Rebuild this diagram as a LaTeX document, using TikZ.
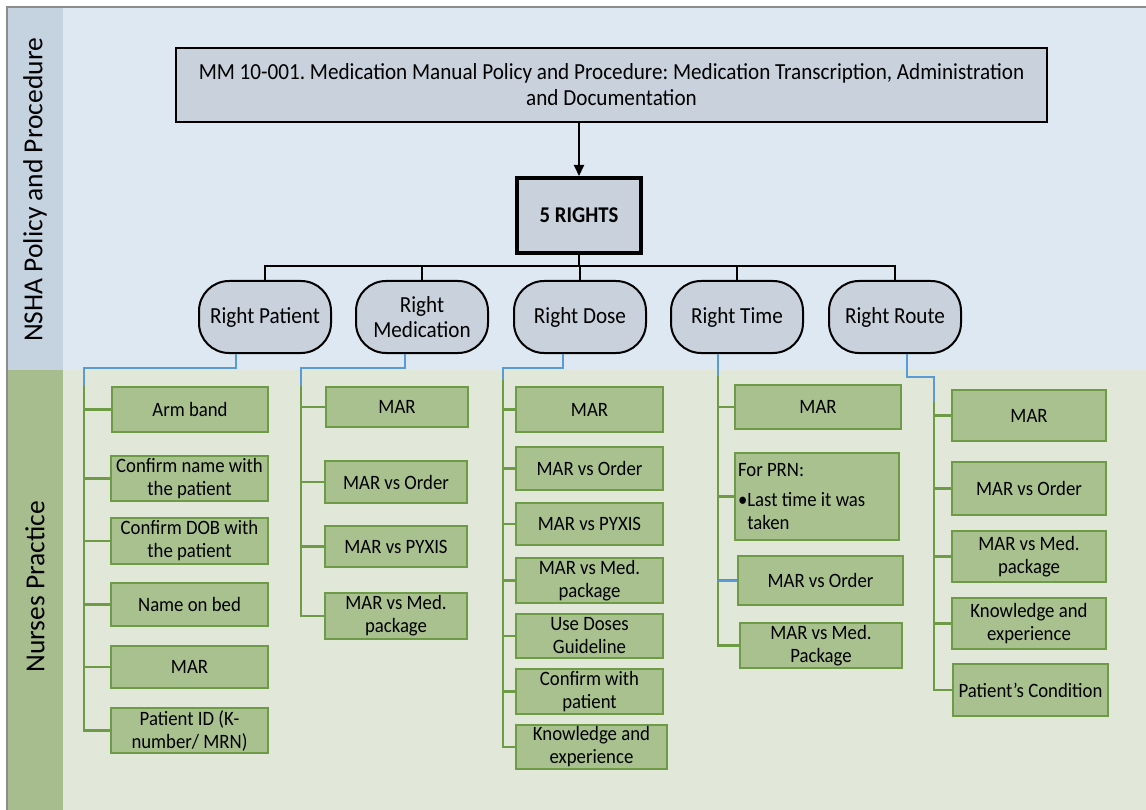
\documentclass[tikz,border=0pt]{standalone}
\usepackage{fontspec}
\setmainfont{Carlito}[FakeStretch=0.92]
\newfontfamily\bandfont{Carlito}
\usetikzlibrary{arrows.meta}
\definecolor{topbg}{HTML}{DEE8F3}
\definecolor{botbg}{HTML}{E1E8DA}
\definecolor{bandtop}{HTML}{C5D2E0}
\definecolor{bandbot}{HTML}{A7BD8E}
\definecolor{kidfill}{HTML}{A9C08F}
\definecolor{kidline}{HTML}{6E9B45}
\definecolor{headfill}{HTML}{C8D1DC}
\definecolor{linkblue}{HTML}{5B9BD5}
\definecolor{framegray}{HTML}{8C8C8C}
\frenchspacing
\begin{document}
\begin{tikzpicture}[x=1pt,y=-1pt,
  spot/.style args={#1/#2/#3/#4}{at={({(#1+#3)/2},{(#2+#4)/2})},
    minimum width={(#3-#1)*1pt}, minimum height={(#4-#2)*1pt}},
  kid/.style={draw=kidline, fill=kidfill, line width=2.5pt, inner sep=0pt,
    align=center, font=\fontsize{20.4}{23}\selectfont},
  rightnode/.style={draw=black, fill=headfill, line width=2pt, rounded corners=30pt,
    minimum width=132pt, minimum height=72pt, inner sep=0pt, align=center,
    font=\fontsize{23}{25}\selectfont},
  gline/.style={draw=kidline, line width=2.5pt},
  bline/.style={draw=linkblue, line width=2pt},
  kline/.style={draw=black, line width=2pt},
  bandlabel/.style={rotate=90, font=\bandfont\fontsize{27.5}{30}\selectfont}]
\useasboundingbox (0,0) rectangle (1146,810);
% background bands
\fill[topbg] (7,7) rectangle (1146,370);
\fill[botbg] (7,370) rectangle (1146,810);
\fill[bandtop] (7,7) rectangle (63,370);
\fill[bandbot] (7,370) rectangle (63,810);
\draw[framegray, line width=2pt] (7,810) -- (7,7) -- (1146,7);
\node[bandlabel] (lbltop) at (35,190) {NSHA Policy and Procedure};
\node[bandlabel] (lblbot) at (35,587) {Nurses Practice};

% policy header and the five rights
\node[draw=black, fill=headfill, line width=1.5pt, inner sep=0pt, align=center,
  spot={176/48/1047/122}, font=\fontsize{23}{26}\selectfont] (policy)
  {MM 10-001. Medication Manual Policy and Procedure: Medication Transcription, Administration\\and Documentation};
\node[draw=black, fill=headfill, line width=4pt, inner sep=0pt,
  spot={517/178/641/253}, font=\fontsize{22.5}{25}\selectfont\bfseries] (five) {5 RIGHTS};
\draw[kline, -{Triangle[length=11pt,width=10pt]}] (policy.south -| five) -- (five.north);

\node[rightnode] (rp) at (265,317) {Right Patient};
\node[rightnode] (rm) at (422,317) {Right\\Medication};
\node[rightnode] (rd) at (580,317) {Right Dose};
\node[rightnode] (rt) at (737,317) {Right Time};
\node[rightnode] (rr) at (895,317) {Right Route};

\coordinate (bus) at (579,266);
\draw[kline] (five.south) -- (bus);
\foreach \n in {rp,rm,rd,rt,rr} \draw[kline] (\n.north) |- (bus);

% Right Patient column
\node[kid, spot={112/387/268/432}] (p1) {Arm band};
\node[kid, spot={111/456/268/501}] (p2) {Confirm name with\\the patient};
\node[kid, spot={111/518/268/564}] (p3) {Confirm DOB with\\the patient};
\node[kid, spot={111/583/268/626}] (p4) {Name on bed};
\node[kid, spot={111/646/268/688}] (p5) {MAR};
\node[kid, spot={111/708/268/753}] (p6) {Patient ID (K-\\number/ MRN)};
\coordinate (pj) at (84,368);
\coordinate (pt) at (84,386);
\foreach \c in {p1,p2,p3,p4,p5,p6} \draw[gline] (pj) |- (\c.west);
\draw[bline] ([xshift=-29pt]rp.south) |- (pj) -- (pt);

% Right Medication column
\node[kid, spot={326/387/468/427}] (m1) {MAR};
\node[kid, spot={325/461/467/503}] (m2) {MAR vs Order};
\node[kid, spot={325/526/467/567}] (m3) {MAR vs PYXIS};
\node[kid, spot={325/593/467/639}] (m4) {MAR vs Med.\\package};
\coordinate (mj) at (301,368);
\coordinate (mt) at (301,386);
\foreach \c in {m1,m2,m3,m4} \draw[gline] (mj) |- (\c.west);
\draw[bline] ([xshift=-17pt]rm.south) |- (mj) -- (mt);

% Right Dose column
\node[kid, spot={516/387/663/432}] (d1) {MAR};
\node[kid, spot={516/447/663/490}] (d2) {MAR vs Order};
\node[kid, spot={516/503/663/545}] (d3) {MAR vs PYXIS};
\node[kid, spot={516/558/663/603}] (d4) {MAR vs Med.\\package};
\node[kid, spot={516/614/663/658}] (d5) {Use Doses\\Guideline};
\node[kid, spot={516/669/663/714}] (d6) {Confirm with\\patient};
\node[kid, spot={516/725/667/769}] (d7) {Knowledge and\\experience};
\coordinate (dj) at (503,368);
\coordinate (dt) at (503,380);
\foreach \c in {d1,d2,d3,d4,d5,d6,d7} \draw[gline] (dj) |- (\c.west);
\draw[bline] ([xshift=-17pt]rd.south) |- (dj) -- (dt);

% Right Time column
\node[kid, spot={735/385/901/429}] (t1) {MAR};
\node[kid, spot={735/453/899/540}, text width=158pt, align=flush left] (t2)
  {For PRN:\\[7pt]\textbullet Last time it was\\\hphantom{\textbullet}taken};
\node[kid, spot={738/556/903/605}] (t3) {MAR vs Order};
\node[kid, spot={740/623/902/668}] (t4) {MAR vs Med.\\Package};
\coordinate (tj) at (718,376);
\foreach \c in {t1,t2,t3,t4} \draw[gline] (tj) |- (\c.west);
\draw[bline] (tj |- t3.west) -- (t3.west);
\draw[bline] (rt.south -| tj) -- (tj);

% Right Route column
\node[kid, spot={952/390/1106/441}] (r1) {MAR};
\node[kid, spot={952/462/1106/515}] (r2) {MAR vs Order};
\node[kid, spot={952/531/1106/582}] (r3) {MAR vs Med.\\package};
\node[kid, spot={952/598/1106/649}] (r4) {Knowledge and\\experience};
\node[kid, spot={953/664/1108/716}] (r5) {Patient's Condition};
\coordinate (rj) at (934,377);
\coordinate (rb) at (934,402);
\foreach \c in {r1,r2,r3,r4,r5} \draw[gline] (rj) |- (\c.west);
\draw[bline] ([xshift=12pt]rr.south) |- (rj) -- (rb);
\end{tikzpicture}
\end{document}
